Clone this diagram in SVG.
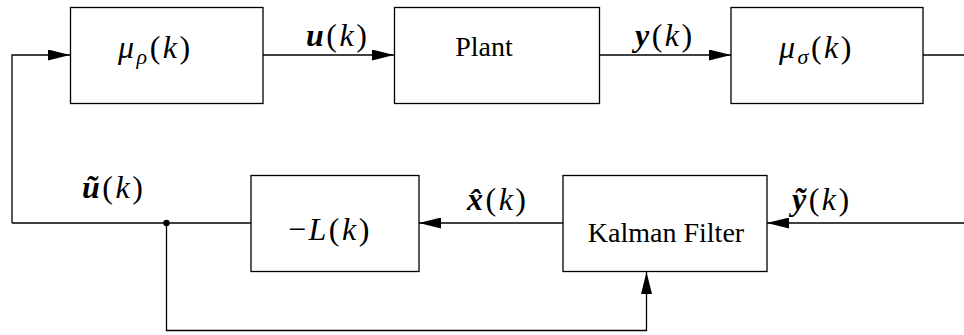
<svg xmlns="http://www.w3.org/2000/svg" width="964" height="335" viewBox="0 0 964 335">
<defs>
<style>
.box{fill:#fff;stroke:#000;stroke-width:1.3}
.ln{fill:none;stroke:#000;stroke-width:1.3}
text{font-family:"Liberation Serif","Times New Roman",serif;fill:#000}
.t{font-size:28px}
.m{font-size:32px;letter-spacing:2.5px}
.i{font-style:italic}
.b{font-weight:bold;font-style:italic}
.s{font-size:22px;font-style:italic}
</style>
<marker id="arr" markerUnits="userSpaceOnUse" markerWidth="22" markerHeight="11" refX="22" refY="5.5" orient="auto">
<path d="M0,0 L22,5.5 L0,11 z" fill="#000"/>
</marker>
</defs>
<rect width="964" height="335" fill="#fff"/>
<g id="connectors">
<polyline class="ln" points="12,223 12,55 70,55" marker-end="url(#arr)"/>
<line class="ln" x1="263" y1="55" x2="394" y2="55" marker-end="url(#arr)"/>
<line class="ln" x1="599" y1="55" x2="731" y2="55" marker-end="url(#arr)"/>
<line class="ln" x1="923" y1="55" x2="964" y2="55"/>
<line class="ln" x1="12" y1="223" x2="251" y2="223"/>
<line class="ln" x1="563" y1="223" x2="419" y2="223" marker-end="url(#arr)"/>
<line class="ln" x1="964" y1="223" x2="767" y2="223" marker-end="url(#arr)"/>
<polyline class="ln" points="166.5,223 166.5,330.5 646.5,330.5 646.5,272" marker-end="url(#arr)"/>
<circle cx="166.5" cy="223" r="3.2" fill="#000"/>
<text class="m" x="306" y="46"><tspan class="b">u</tspan>(<tspan class="i">k</tspan>)</text>
<text class="m" x="635" y="46"><tspan class="b">y</tspan>(<tspan class="i">k</tspan>)</text>
<text class="m" x="82" y="198"><tspan class="b">ũ</tspan>(<tspan class="i">k</tspan>)</text>
<text class="m" x="467" y="210"><tspan class="b">x̂</tspan>(<tspan class="i">k</tspan>)</text>
<text class="m" x="792" y="210"><tspan class="b">ỹ</tspan>(<tspan class="i">k</tspan>)</text>
</g>
<g id="mu_rho">
<rect class="box" x="70.5" y="7.5" width="192.5" height="96"/>
<text class="m" x="118" y="58"><tspan class="i">μ</tspan><tspan class="s" dy="6">ρ</tspan><tspan dy="-6">(</tspan><tspan class="i">k</tspan>)</text>
</g>
<g id="plant">
<rect class="box" x="394.5" y="7.5" width="205" height="96"/>
<text class="t" x="484" y="56" text-anchor="middle">Plant</text>
</g>
<g id="mu_sigma">
<rect class="box" x="731" y="7.5" width="192" height="96"/>
<text class="m" x="779" y="58"><tspan class="i">μ</tspan><tspan class="s" dy="6">σ</tspan><tspan dy="-6">(</tspan><tspan class="i">k</tspan>)</text>
</g>
<g id="neg_L">
<rect class="box" x="251" y="175.5" width="168" height="96"/>
<text class="m" x="288" y="240">−<tspan class="i">L</tspan>(<tspan class="i">k</tspan>)</text>
</g>
<g id="kalman">
<rect class="box" x="563" y="175.5" width="204" height="96"/>
<text class="t" x="666" y="242" text-anchor="middle">Kalman Filter</text>
</g>
</svg>
